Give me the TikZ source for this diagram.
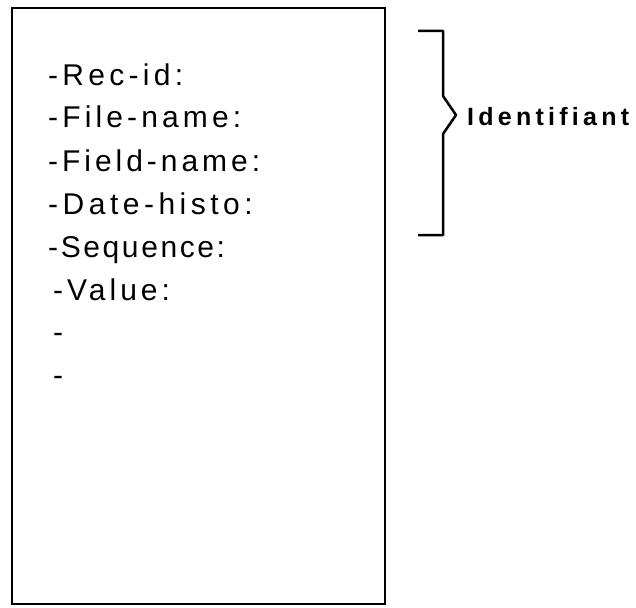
\documentclass[tikz,border=0pt]{standalone}
\usepackage{fontspec}
\setmainfont{Liberation Sans}
\newfontfamily\boldlbl{Liberation Sans}[LetterSpace=17,BoldFont={Liberation Sans Bold}]
\begin{document}
\begin{tikzpicture}[x=1pt,y=-1pt,
  field/.style={anchor=base west,inner sep=0pt,font=\fontsize{30}{36}\selectfont\addfontfeature{LetterSpace=#1}},
  field/.default=13,
  lbl/.style={anchor=base west,inner sep=0pt,font=\boldlbl\bfseries\fontsize{25}{30}\selectfont},
  frame/.style={draw,line width=2pt},
  brack/.style={draw,line width=2.5pt,line join=round}]
\useasboundingbox (0,0) rectangle (636,607);
\draw[frame] (12,8) rectangle (385,604);
\node[field=14.3] (f1) at (48,85) {-Rec-id:};
\node[field=13.8] (f2) at (48,128) {-File-name:};
\node[field=13.2] (f3) at (48,171) {-Field-name:};
\node[field=15] (f4) at (48,214) {-Date-histo:};
\node[field=8.7] (f5) at (48,257) {-Sequence:};
\node[field=13.3] (f6) at (53,300) {-Value:};
\node[field] (f7) at (53,342) {-};
\node[field] (f8) at (53,385) {-};
\coordinate (bt) at (418,31);
\coordinate (bb) at (418,235);
\coordinate (tip) at (456,115);
\draw[brack] (bt) -- (443,31) -- (443,96) -- (tip) -- (443,134) -- (443,235) -- (bb);
\node[lbl] (id) at (467,125) {Identifiant};
\end{tikzpicture}
\end{document}
